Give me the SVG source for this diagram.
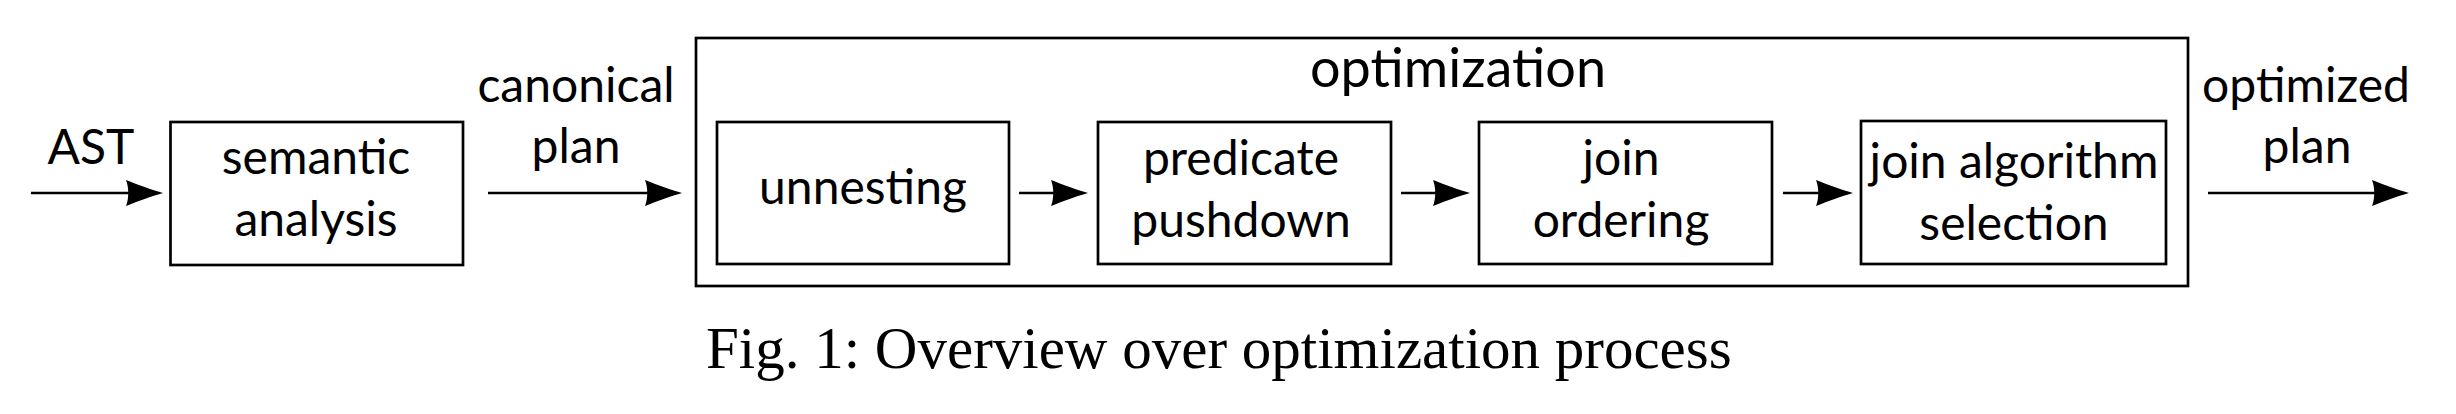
<svg xmlns="http://www.w3.org/2000/svg" width="2456" height="414" viewBox="0 0 2456 414">
<style>
.box{fill:none;stroke:#000;stroke-width:2.7}
.edge{fill:none;stroke:#000;stroke-width:2.7}
.lbl{font-family:Lato,"Liberation Sans",sans-serif;font-size:48px;fill:#000;text-anchor:middle}
.title{font-size:54px}
.cap{font-family:"Liberation Serif",serif;font-size:59px;fill:#000}
</style>
<defs>
<marker id="arr" markerUnits="userSpaceOnUse" markerWidth="52" markerHeight="30" refX="40" refY="15" orient="auto" overflow="visible">
<path d="M51,15 C41,12 26,7 14,2 C17,10 17,20 14,28 C26,23 41,18 51,15 Z" fill="#000"/>
</marker>
</defs>
<rect width="2456" height="414" fill="#fff"/>
<g id="connectors">
<line class="edge" x1="31" y1="193" x2="152" y2="193" marker-end="url(#arr)"/>
<line class="edge" x1="488" y1="193" x2="671" y2="193" marker-end="url(#arr)"/>
<line class="edge" x1="1019" y1="193" x2="1077" y2="193" marker-end="url(#arr)"/>
<line class="edge" x1="1401" y1="193" x2="1459" y2="193" marker-end="url(#arr)"/>
<line class="edge" x1="1783" y1="193" x2="1842" y2="193" marker-end="url(#arr)"/>
<line class="edge" x1="2208" y1="193" x2="2398" y2="193" marker-end="url(#arr)"/>
</g>
<g id="edge-labels">
<text class="lbl" x="91" y="164">AST</text>
<text class="lbl" x="576" y="102">canonical</text>
<text class="lbl" x="576" y="163">plan</text>
<text class="lbl" x="2306" y="102">optimized</text>
<text class="lbl" x="2307" y="163">plan</text>
</g>
<g id="semantic-analysis">
<rect class="box" x="170.5" y="122" width="292.5" height="143"/>
<text class="lbl" x="316" y="174">semantic</text>
<text class="lbl" x="316" y="236">analysis</text>
</g>
<g id="optimization">
<rect class="box" x="696" y="38" width="1492" height="248"/>
<text class="lbl title" x="1458" y="87">optimization</text>
</g>
<g id="unnesting">
<rect class="box" x="717" y="122" width="292" height="142"/>
<text class="lbl" x="863" y="204">unnesting</text>
</g>
<g id="predicate-pushdown">
<rect class="box" x="1098" y="122" width="293" height="142"/>
<text class="lbl" x="1241" y="175">predicate</text>
<text class="lbl" x="1241" y="237">pushdown</text>
</g>
<g id="join-ordering">
<rect class="box" x="1479" y="122" width="293" height="142"/>
<text class="lbl" x="1621" y="175">join</text>
<text class="lbl" x="1621" y="237">ordering</text>
</g>
<g id="join-algorithm-selection">
<rect class="box" x="1861" y="121" width="305" height="143"/>
<text class="lbl" x="2014" y="178">join algorithm</text>
<text class="lbl" x="2014" y="240">selection</text>
</g>
<text class="cap" x="706" y="368">Fig. 1: Overview over optimization process</text>
</svg>
